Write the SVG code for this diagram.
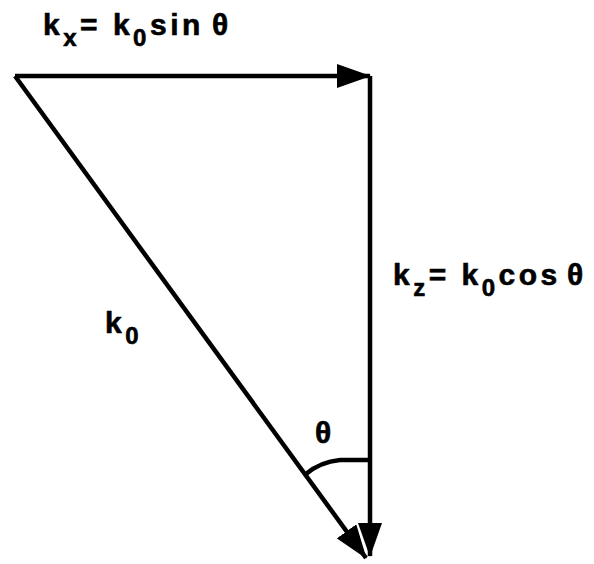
<svg xmlns="http://www.w3.org/2000/svg" width="594" height="564" viewBox="0 0 594 564">
<style>
.ln{stroke:#000;stroke-width:4.5;fill:none}
.lbl{font-family:"Liberation Sans",Arial,sans-serif;font-weight:bold;font-size:30px;fill:#000;letter-spacing:3.5px;stroke:#000;stroke-width:0.6}
.sub{font-size:24px}
.th{letter-spacing:0}
</style>
<defs>
<marker id="ah" viewBox="0 0 34 24" refX="33" refY="12" markerWidth="34" markerHeight="24" markerUnits="userSpaceOnUse" orient="auto">
<path d="M0,0 L34,12 L0,24 Z" fill="#000"/>
</marker>
</defs>
<rect width="594" height="564" fill="#fff"/>
<g id="connectors">
<line class="ln" x1="15" y1="76" x2="370" y2="76" marker-end="url(#ah)"/>
<line class="ln" x1="370" y1="76" x2="370" y2="556" marker-end="url(#ah)"/>
<line class="ln" x1="15" y1="76" x2="366" y2="558" marker-end="url(#ah)"/>
<path class="ln" d="M370,460 L340,460 Q320,462 306,474" stroke-width="3.5"/>
</g>
<g id="kx-label">
<text class="lbl" x="43" y="35">k<tspan class="sub" dy="11">x</tspan><tspan dy="-11">= k</tspan><tspan class="sub" dy="11">0</tspan><tspan dy="-11">sin</tspan><tspan class="th" x="212">θ</tspan></text>
</g>
<g id="kz-label">
<text class="lbl" x="393" y="285">k<tspan class="sub" dy="11">z</tspan><tspan dy="-11">= k</tspan><tspan class="sub" dy="11">0</tspan><tspan dy="-11">cos</tspan><tspan class="th" x="567">θ</tspan></text>
</g>
<g id="k0-label">
<text class="lbl" x="105" y="333">k<tspan class="sub" dy="11">0</tspan></text>
</g>
<g id="theta-label">
<text class="lbl th" x="315" y="443">θ</text>
</g>
</svg>
